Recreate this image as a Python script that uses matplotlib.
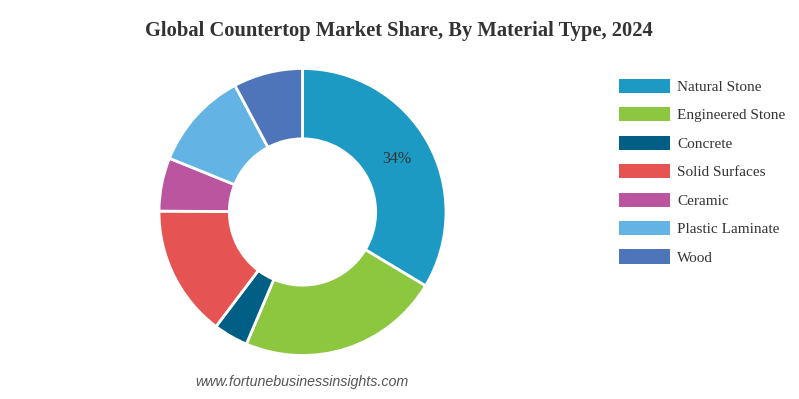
import numpy as np
import matplotlib
matplotlib.use("Agg")
import matplotlib.pyplot as plt

# Market share by material type, 2024 (%)
materials = ["Natural Stone", "Engineered Stone", "Concrete", "Solid Surfaces",
             "Ceramic", "Plastic Laminate", "Wood"]
shares = [33.6, 22.8, 3.9, 14.8, 6.0, 11.1, 7.8]
colors = ["#1c9ac4", "#8dc63f", "#015f86", "#e55353", "#bb55a0", "#63b4e4", "#4e74b9"]

TITLE = "Global Countertop Market Share, By Material Type, 2024"
SOURCE = "www.fortunebusinessinsights.com"

W, H = 799, 399
fig = plt.figure(figsize=(W / 100, H / 100), dpi=100, facecolor="white")

# donut axes: centre ~(302, 212) px, radius ~143 px
cx, cy, r = 302.5, 212, 143.5
ax = fig.add_axes([(cx - r) / W, (H - cy - r) / H, 2 * r / W, 2 * r / H])
wedges, _ = ax.pie(shares, colors=colors, startangle=90, counterclock=False,
                   radius=1.0,
                   wedgeprops=dict(width=0.49, edgecolor="white", linewidth=2))
ax.set_xlim(-1, 1)
ax.set_ylim(-1, 1)
ax.set_aspect("equal")
ax.axis("off")

# percentage label on the largest slice only
w0 = wedges[0]
mid = np.deg2rad((w0.theta1 + w0.theta2) / 2)
ax.text(0.755 * np.cos(mid), 0.755 * np.sin(mid), f"{round(shares[0]):d}%",
        ha="center", va="center", fontsize=11.5, color="#333333",
        family="Liberation Serif")

fig.text(399 / W, 1 - 31 / H, TITLE, ha="center", va="center",
         fontsize=14.8, fontweight="bold", color="#333333",
         family="Liberation Serif")

fig.text(302 / W, 1 - 382 / H, SOURCE, ha="center", va="center",
         fontsize=10.3, style="italic", color="#555555",
         family="Liberation Sans")

leg = fig.legend(wedges, materials, loc="upper left",
                 bbox_to_anchor=(605 / W, 1 - 65 / H),
                 frameon=False, handlelength=3.33, handleheight=1.05,
                 handletextpad=0.5, labelspacing=0.86,
                 prop={"family": "Liberation Serif", "size": 11})
for t in leg.get_texts():
    t.set_color("#333333")
for p in leg.get_patches():
    p.set_edgecolor("none")

fig.savefig("out.png", dpi=100, facecolor="white")
